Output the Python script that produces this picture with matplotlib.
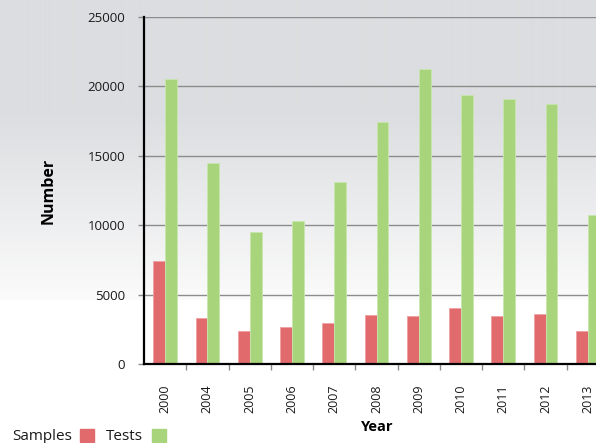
import numpy as np
import matplotlib
matplotlib.use("Agg")
import matplotlib.pyplot as plt
from matplotlib.patches import Rectangle

plt.rcParams['font.family'] = ['Open Sans', 'DejaVu Sans']

years = ["2000", "2004", "2005", "2006", "2007", "2008", "2009", "2010", "2011", "2012", "2013"]
samples = [7400, 3300, 2400, 2650, 2950, 3530, 3430, 4000, 3480, 3600, 2350]
tests = [20500, 14500, 9500, 10300, 13100, 17400, 21250, 19350, 19060, 18700, 10700]

red = "#e06a6c"
green = "#a8d47b"

fig = plt.figure(figsize=(5.96, 4.43), dpi=100)

# background gradient: flat grey at top, fading to white lower down
bg = fig.add_axes([0, 0, 1, 1], zorder=-1)
h = 443
col = np.ones((h, 1, 3))
top = np.array([220, 221, 224]) / 255.0
low = np.array([251, 251, 251]) / 255.0
for i in range(h):
    if i < 110:
        col[i, 0] = top
    elif i < 300:
        t = (i - 110) / 190.0
        col[i, 0] = top * (1 - t) + low * t
bg.imshow(col, aspect='auto', extent=[0, 1, 0, 1], origin='upper')
bg.axis('off')

ax = fig.add_axes([144 / 596, 79 / 443, 465 / 596, 347 / 443])
ax.set_facecolor('none')

x = np.arange(len(years))
w = 0.28
ax.bar(x - w / 2, samples, w, color=red, edgecolor="#f0a0a2", linewidth=0.6, zorder=3)
ax.bar(x + w / 2, tests, w, color=green, edgecolor="#c8e6ae", linewidth=0.6, zorder=3)

ax.set_xlim(-0.5, len(years) - 0.5)
ax.set_ylim(0, 25000)
ax.set_yticks(range(0, 25001, 5000))
ax.yaxis.grid(True, color="#8c8c8c", linewidth=1.0, zorder=1)
ax.set_axisbelow(True)

for s in ["top", "right"]:
    ax.spines[s].set_visible(False)
ax.spines["left"].set_linewidth(1.6)
ax.spines["bottom"].set_linewidth(1.6)
ax.spines["left"].set_zorder(4)
ax.spines["bottom"].set_zorder(4)

ax.tick_params(axis='y', length=4.5, width=1.0, color="#8c8c8c", pad=9, labelsize=9.5, labelcolor="#1a1a1a")
ax.set_xticks(x)
ax.set_xticklabels(years, rotation=90, fontsize=9, color="#1a1a1a")
ax.tick_params(axis='x', which='major', length=0, pad=15)
ax.set_xticks(x[:-1] + 0.5, minor=True)
ax.tick_params(axis='x', which='minor', length=4, width=1.0, color="#8c8c8c")

ax.set_ylabel("Number", fontsize=11.5, fontweight='bold')
ax.yaxis.set_label_coords(-0.187, 0.5)

fig.text(377 / 596, 1 - 427 / 443, "Year", ha='center', va='center', fontsize=10.5, fontweight='bold')

# legend along the bottom
fig.text(12 / 596, 1 - 440 / 443, "Samples", ha='left', va='baseline', fontsize=11, color="#1a1a1a")
fig.patches.append(Rectangle((80 / 596, 1 - 442 / 443), 14 / 596, 13 / 443,
                             transform=fig.transFigure, color=red, figure=fig))
fig.text(106 / 596, 1 - 440 / 443, "Tests", ha='left', va='baseline', fontsize=11, color="#1a1a1a")
fig.patches.append(Rectangle((152 / 596, 1 - 442 / 443), 14 / 596, 13 / 443,
                             transform=fig.transFigure, color=green, figure=fig))

fig.savefig("out.png", dpi=100)
